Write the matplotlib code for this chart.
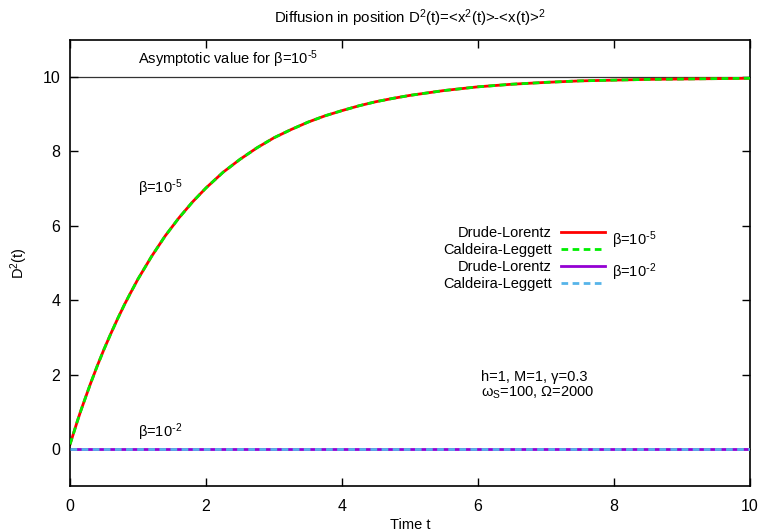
import matplotlib
matplotlib.use("Agg")
import matplotlib.pyplot as plt

plt.rcParams['font.family'] = ['Liberation Sans', 'DejaVu Sans']
plt.rcParams['mathtext.default'] = 'regular'
plt.rcParams['font.size'] = 10.5

# Time grid and diffusion values D^2(t)
t = [0.0, 0.05, 0.1, 0.15, 0.2, 0.3, 0.4, 0.5, 0.6, 0.7, 0.8, 0.9, 1.0, 1.2,
     1.4, 1.6, 1.8, 2.0, 2.25, 2.5, 2.75, 3.0, 3.25, 3.5, 3.75, 4.0, 4.25,
     4.5, 4.75, 5.0, 5.5, 6.0, 6.5, 7.0, 7.5, 8.0, 8.5, 9.0, 9.5, 10.0]
d2_small_beta = [0.12, 0.41, 0.70, 0.98, 1.24, 1.75, 2.23, 2.68, 3.10, 3.50,
                 3.88, 4.23, 4.57, 5.18, 5.73, 6.21, 6.64, 7.02, 7.44, 7.79,
                 8.10, 8.37, 8.59, 8.79, 8.96, 9.10, 9.23, 9.34, 9.43, 9.51,
                 9.64, 9.74, 9.81, 9.86, 9.90, 9.92, 9.94, 9.95, 9.96, 9.97]
d2_large_beta = [0.0] * len(t)
asymptote = 10.0

x_ticks = [0, 2, 4, 6, 8, 10]
y_ticks = [0, 2, 4, 6, 8, 10]

fig = plt.figure(figsize=(7.62, 5.31), dpi=100)
ax = fig.add_axes([0.0919, 0.0847, 0.8924, 0.84])

ax.axhline(asymptote, color='#333333', lw=0.9, zorder=1)

dl5, = ax.plot(t, d2_small_beta, color='#ff0000', lw=2.0, zorder=2)
cl5, = ax.plot(t, d2_small_beta, color='#00ee00', lw=2.0, ls=(0, (2.4, 1.6)), zorder=3)
dl2, = ax.plot(t, d2_large_beta, color='#9400d3', lw=2.0, zorder=2)
cl2, = ax.plot(t, d2_large_beta, color='#56b4e9', lw=2.0, ls=(0, (2.4, 1.6)), zorder=3)

ax.set_xlim(0, 10)
ax.set_ylim(-1, 11)
ax.set_xticks(x_ticks)
ax.set_yticks(y_ticks)
ax.tick_params(direction='in', length=6, width=1, top=True, right=True,
               labelsize=11.5)
ax.tick_params(axis='x', pad=9)
ax.tick_params(axis='y', pad=7)
for s in ax.spines.values():
    s.set_linewidth(1.2)

ax.set_title(r'Diffusion in position D$^2$(t)=<x$^2$(t)>-<x(t)>$^2$',
             fontsize=10.8, pad=12)
ax.set_xlabel('Time t', fontsize=10.5, labelpad=3)
ax.set_ylabel('D$^2$(t)', fontsize=10.5, labelpad=9)

ax.text(1.0, 10.2, r'Asymptotic value for β=10$^{\text{-}5}$', va='bottom')
ax.text(1.0, 7.0, r'β=10$^{\text{-}5}$', va='center')
ax.text(1.0, 0.45, r'β=10$^{\text{-}2}$', va='center')
ax.text(6.05, 1.93, 'h=1, M=1, γ=0.3', va='center')
ax.text(6.05, 1.5, 'ω$_S$=100, Ω=2000', va='center')

ax.legend([dl5, cl5, dl2, cl2],
          ['Drude-Lorentz', 'Caldeira-Leggett', 'Drude-Lorentz', 'Caldeira-Leggett'],
          markerfirst=False, frameon=False, loc='upper right',
          bbox_to_anchor=(0.787, 0.582), borderpad=0, borderaxespad=0,
          handlelength=3.0, handletextpad=0.65, labelspacing=0.2,
          fontsize=10.5)

ax.text(7.97, 5.62, r'β=10$^{\text{-}5}$', va='center')
ax.text(7.97, 4.75, r'β=10$^{\text{-}2}$', va='center')

fig.savefig('out.png', dpi=100)
